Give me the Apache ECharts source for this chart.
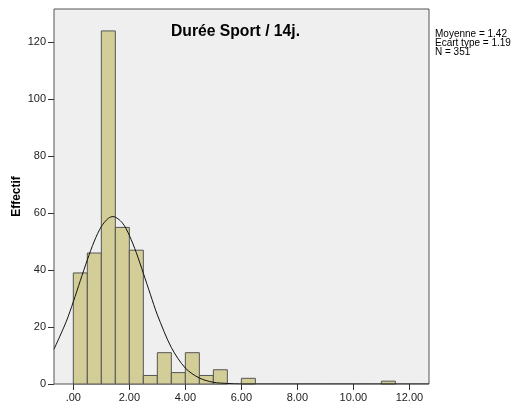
<!DOCTYPE html>
<html>
<head>
<meta charset="utf-8">
<script src="https://cdn.jsdelivr.net/npm/echarts@6/dist/echarts.min.js"></script>
<style>
  html, body { margin: 0; padding: 0; background: #fff; }
  #chart { width: 514px; height: 406px; }
</style>
</head>
<body>
<div id="chart"></div>
<script>
// histogram bins (lower edge) and counts, width 0.5
const binStart = [0, 0.5, 1.0, 1.5, 2.0, 2.5, 3.0, 3.5, 4.0, 4.5, 5.0, 6.0, 11.0];
const binCount = [39, 46, 124, 55, 47, 3, 11, 4, 11, 3, 5, 2, 1];
const binWidth = 0.5;

// normal curve
const curveX = [-0.69, -0.25, 0, 0.25, 0.5, 0.75, 1.0, 1.25, 1.42, 1.75, 2.0, 2.25, 2.5, 2.75, 3.0, 3.5, 4.0, 4.5, 5.0, 5.5, 6.0, 7.0, 8.0, 10.0, 12.7];
const curveY = [12.2, 22.0, 28.9, 36.3, 43.6, 50.2, 55.3, 58.2, 58.8, 56.6, 52.2, 46.1, 38.9, 31.5, 24.3, 12.8, 5.6, 2.1, 0.6, 0.2, 0, 0, 0, 0, 0];

const xTicks = [0, 2, 4, 6, 8, 10, 12];
const yTicks = [0, 20, 40, 60, 80, 100, 120];
const statLines = ['Moyenne = 1.42', 'Ecart type = 1.19', 'N = 351'];

const font = 'Arial, "Liberation Sans", sans-serif';
const chart = echarts.init(document.getElementById('chart'));

chart.setOption({
  animation: false,
  title: {
    text: 'Durée Sport / 14j.',
    left: 166, top: 19,
    textStyle: { fontFamily: font, fontSize: 15.7, fontWeight: 'bold', color: '#000' }
  },
  graphic: [{
    type: 'text', left: 435, top: 29,
    style: { text: statLines.join('\n'), font: '10px ' + font, fill: '#000', lineHeight: 9 }
  }],
  grid: {
    left: 54, top: 9, right: 85, bottom: 22, show: true,
    containLabel: false, outerBoundsMode: 'none',
    backgroundColor: '#efefef', borderColor: '#555', borderWidth: 1
  },
  xAxis: {
    type: 'value', min: -0.69, max: 12.7,
    axisLine: { show: false, onZero: false },
    splitLine: { show: false },
    axisTick: { show: true, length: 6, customValues: xTicks, lineStyle: { color: '#333' } },
    axisLabel: {
      customValues: xTicks, margin: 8, color: '#222', fontFamily: font, fontSize: 11,
      formatter: v => v === 0 ? '.00' : v.toFixed(2)
    }
  },
  yAxis: {
    type: 'value', min: 0, max: 131.7,
    name: 'Effectif', nameLocation: 'middle', nameGap: 31, nameRotate: 90, nameMoveOverlap: false,
    nameTextStyle: { fontFamily: font, fontSize: 12, fontWeight: 'bold', color: '#000' },
    axisLine: { show: false, onZero: false },
    splitLine: { show: false },
    axisTick: { show: true, length: 6, customValues: yTicks, lineStyle: { color: '#333' } },
    axisLabel: { customValues: yTicks, margin: 8, color: '#222', fontFamily: font, fontSize: 11 }
  },
  series: [
    {
      type: 'custom',
      data: binStart.map((x, i) => [x, binCount[i]]),
      renderItem: (params, api) => {
        const x0 = api.value(0), c = api.value(1);
        const p0 = api.coord([x0, c]);
        const p1 = api.coord([x0 + binWidth, 0]);
        return {
          type: 'rect',
          shape: { x: p0[0], y: p0[1], width: p1[0] - p0[0], height: p1[1] - p0[1] },
          style: { fill: '#d3ce98', stroke: '#555', lineWidth: 1 }
        };
      }
    },
    {
      type: 'line',
      data: curveX.map((x, i) => [x, curveY[i]]),
      smooth: 0.3, showSymbol: false,
      lineStyle: { color: '#111', width: 1 }
    }
  ]
});
</script>
</body>
</html>
